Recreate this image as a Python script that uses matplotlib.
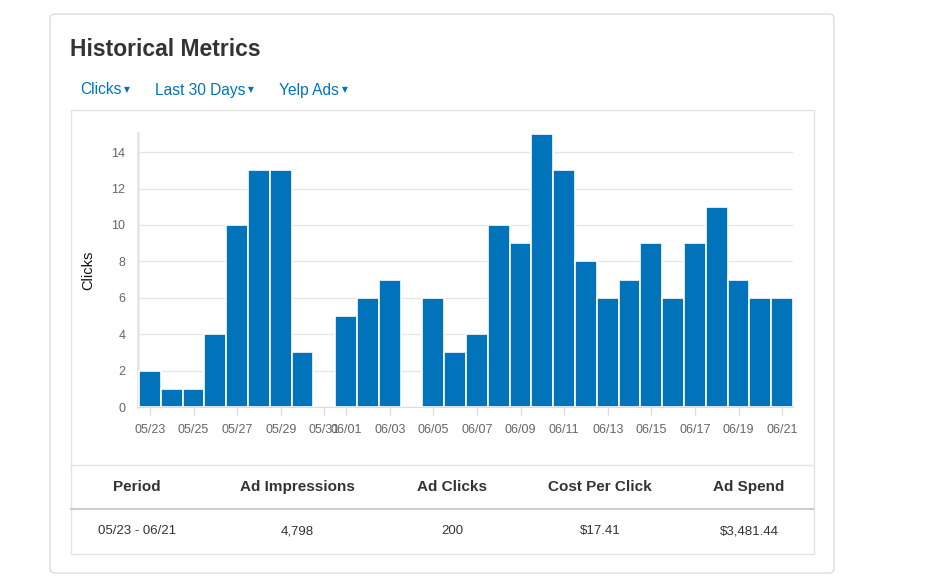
import numpy as np
import matplotlib
matplotlib.use("Agg")
import matplotlib.pyplot as plt
from matplotlib.patches import FancyBboxPatch, Rectangle

plt.rcParams['font.family'] = ['Liberation Sans', 'DejaVu Sans']

# data
days = ['05/23', '05/24', '05/25', '05/26', '05/27', '05/28', '05/29', '05/30', '05/31',
        '06/01', '06/02', '06/03', '06/04', '06/05', '06/06', '06/07', '06/08', '06/09',
        '06/10', '06/11', '06/12', '06/13', '06/14', '06/15', '06/16', '06/17', '06/18',
        '06/19', '06/20', '06/21']
clicks = [2, 1, 1, 4, 10, 13, 13, 3, 0, 5, 6, 7, 0, 6, 3, 4, 10, 9, 15, 13,
          8, 6, 7, 9, 6, 9, 11, 7, 6, 6]
tick_days = ['05/23', '05/25', '05/27', '05/29', '05/31', '06/01', '06/03', '06/05',
             '06/07', '06/09', '06/11', '06/13', '06/15', '06/17', '06/19', '06/21']

menus = ['Clicks', 'Last 30 Days', 'Yelp Ads']
table_head = ['Period', 'Ad Impressions', 'Ad Clicks', 'Cost Per Click', 'Ad Spend']
table_vals = ['05/23 - 06/21', '4,798', '200', '$17.41', '$3,481.44']

W, H = 943, 585
BLUE = '#0073bb'
fig = plt.figure(figsize=(W / 100, H / 100), dpi=100)

# background layer in pixel coords
bg = fig.add_axes([0, 0, 1, 1])
bg.set_xlim(0, W)
bg.set_ylim(H, 0)
bg.axis('off')

card = FancyBboxPatch((50, 14), 784, 559, boxstyle='round,pad=0,rounding_size=5',
                      fc='white', ec='#dddddd', lw=1)
bg.add_patch(card)
bg.add_patch(Rectangle((70.5, 109.5), 743, 444, fc='none', ec='#e3e3e3', lw=1))

bg.text(70, 49, 'Historical Metrics', fontsize=16.5, fontweight='bold', color='#333333',
        va='center', ha='left')

# dropdown menus, caret drawn a bit smaller after each label
mx = [80, 155, 279]
r = fig.canvas.get_renderer()
for x, m in zip(mx, menus):
    t = bg.text(x, 90, m, fontsize=11.2, color=BLUE, va='center', ha='left')
    bb = t.get_window_extent(renderer=r)
    x_end = bg.transData.inverted().transform((bb.x1, bb.y0))[0]
    bg.text(x_end + 3, 90, '\u25bc', fontsize=5.5, color=BLUE, va='center', ha='left',
            family=['DejaVu Sans'])

# table
bg.plot([71, 813], [464.5, 464.5], color='#e3e3e3', lw=1)
bg.plot([71, 813], [508.5, 508.5], color='#cfcfcf', lw=1.5)
cols = [137, 297, 452, 600, 749]
for x, h, v in zip(cols, table_head, table_vals):
    bg.text(x, 487, h, fontsize=11, fontweight='bold', color='#333333', ha='center', va='center')
    bg.text(x, 531, v, fontsize=9.5, color='#333333', ha='center', va='center')

# chart axes
left, right, top, bottom = 138, 793, 133, 407
ax = fig.add_axes([left / W, 1 - bottom / H, (right - left) / W, (bottom - top) / H])
x = np.arange(len(days))
ax.bar(x, clicks, width=1.0, color=BLUE, edgecolor='white', linewidth=1.2, zorder=3)
ax.set_xlim(-0.55, len(days) - 0.5)
ax.set_ylim(0, 15.05)
ax.set_yticks(range(0, 15, 2))
ax.grid(axis='y', color='#e6e6e6', lw=1, zorder=0)
ax.set_xticks([days.index(d) for d in tick_days])
ax.set_xticklabels(tick_days)
ax.tick_params(axis='x', colors='#dddddd', length=6, width=1, labelcolor='#666666',
               labelsize=9, pad=6)
ax.tick_params(axis='y', length=0, labelcolor='#666666', labelsize=9, pad=9)
for s in ['top', 'right']:
    ax.spines[s].set_visible(False)
ax.spines['left'].set_color('#e6e6e6')
ax.spines['left'].set_linewidth(2)
ax.spines['bottom'].set_color('#dddddd')
ax.spines['bottom'].set_linewidth(1.5)
ax.set_ylabel('Clicks', fontsize=10.5, color='#111111', labelpad=12)

fig.savefig('out.png', dpi=100)
